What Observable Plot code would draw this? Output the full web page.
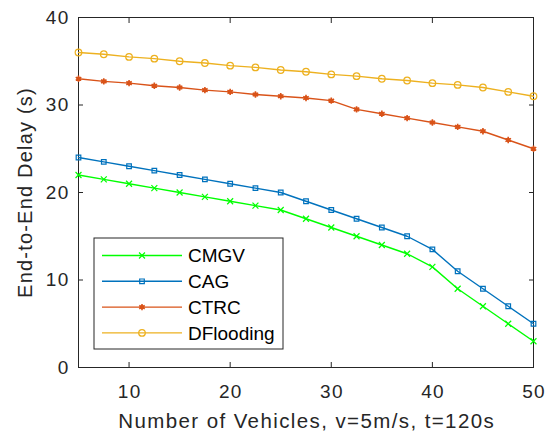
<!DOCTYPE html>
<html>
<head>
<meta charset="utf-8">
<script src="https://cdn.jsdelivr.net/npm/d3@7"></script>
<script src="https://cdn.jsdelivr.net/npm/@observablehq/plot@0.6"></script>
<style>
  html, body { margin: 0; padding: 0; background: #fff; }
  #chart { position: relative; width: 545px; height: 432px; }
  .tick-lbl text { letter-spacing: 1.3px; }
  .ax-lbl-x text { letter-spacing: 1.4px; }
  .ax-lbl-y text { letter-spacing: 1.2px; }
</style>
</head>
<body>
<div id="chart"></div>
<script>
const vehicles = [5, 7.5, 10, 12.5, 15, 17.5, 20, 22.5, 25, 27.5, 30, 32.5, 35, 37.5, 40, 42.5, 45, 47.5, 50];
const cmgv = [22, 21.5, 21, 20.5, 20, 19.5, 19, 18.5, 18, 17, 16, 15, 14, 13, 11.5, 9, 7, 5, 3];
const cag = [24, 23.5, 23, 22.5, 22, 21.5, 21, 20.5, 20, 19, 18, 17, 16, 15, 13.5, 11, 9, 7, 5];
const ctrc = [33, 32.7, 32.5, 32.2, 32, 31.7, 31.5, 31.2, 31, 30.8, 30.5, 29.5, 29, 28.5, 28, 27.5, 27, 26, 25];
const dflooding = [36, 35.8, 35.5, 35.3, 35, 34.8, 34.5, 34.3, 34, 33.8, 33.5, 33.3, 33, 32.8, 32.5, 32.3, 32, 31.5, 31];
const seriesNames = ["CMGV", "CAG", "CTRC", "DFlooding"];
const seriesValues = [cmgv, cag, ctrc, dflooding];
const seriesColors = ["#00ff00", "#0072bd", "#d95319", "#edb120"];
const seriesSymbols = ["times", "square", "asterisk", "circle"];
const xTicks = [10, 20, 30, 40, 50];
const yTicks = [0, 10, 20, 30, 40];
const xLabel = "Number of Vehicles, v=5m/s, t=120s";
const yLabel = "End-to-End Delay (s)";

const FONT = "'Liberation Sans', Arial, Helvetica, sans-serif";
const AX = "#262626";

const rows = [];
seriesNames.forEach((name, i) => {
  vehicles.forEach((v, j) => rows.push({series: name, x: v, y: seriesValues[i][j]}));
});

const colorOf = Object.fromEntries(seriesNames.map((n, i) => [n, seriesColors[i]]));
const symOf = Object.fromEntries(seriesNames.map((n, i) => [n, seriesSymbols[i]]));
const symR = {circle: 3.3, square: 2.6, asterisk: 3.0, times: 2.8};

const marks = [];
seriesNames.forEach((name) => {
  const d = rows.filter(r => r.series === name);
  marks.push(Plot.line(d, {x: "x", y: "y", stroke: colorOf[name], strokeWidth: 1.4}));
  const sym = symOf[name];
  marks.push(Plot.dot(d, {x: "x", y: "y", stroke: colorOf[name], symbol: () => sym, r: symR[sym], strokeWidth: sym === "asterisk" ? 1.6 : 1.2, fill: "none"}));
  if (sym === "asterisk") {
    marks.push(Plot.dot(d, {x: "x", y: "y", fill: colorOf[name], r: 2.2}));
  }
});

const chart = Plot.plot({
  width: 545,
  height: 432,
  marginLeft: 78,
  marginRight: 12,
  marginTop: 17,
  marginBottom: 65,
  style: {fontFamily: FONT, fontSize: "19px", color: AX, background: "#fff"},
  x: {domain: [5, 50]},
  y: {domain: [0, 40]},
  marks: [
    Plot.frame({stroke: AX, strokeWidth: 1}),
    ...marks,
    Plot.axisX(xTicks, {anchor: "bottom", tickSize: -5, text: null, stroke: AX, label: null}),
    Plot.axisX(xTicks, {anchor: "top", tickSize: -5, text: null, stroke: AX, label: null}),
    Plot.axisY(yTicks, {anchor: "left", tickSize: -5, text: null, stroke: AX, label: null}),
    Plot.axisY(yTicks, {anchor: "right", tickSize: -5, text: null, stroke: AX, label: null}),
    Plot.axisX(xTicks, {anchor: "bottom", tickSize: 0, tickPadding: 17, label: null, fill: AX, fontSize: 19, className: "tick-lbl", dx: 0.6}),
    Plot.axisY(yTicks, {anchor: "left", tickSize: 0, tickPadding: 9, label: null, fill: AX, fontSize: 19, className: "tick-lbl"}),
    Plot.text([xLabel], {frameAnchor: "bottom", text: d => d, dy: 46, dx: 0.7, lineAnchor: "top", fill: AX, fontSize: 20.5, className: "ax-lbl-x"}),
    Plot.text([yLabel], {frameAnchor: "left", text: d => d, dx: -53, rotate: -90, textAnchor: "middle", lineAnchor: "middle", fill: AX, fontSize: 20, className: "ax-lbl-y"})
  ]
});

document.getElementById("chart").appendChild(chart);

// Legend (MATLAB-style, inside axes at lower-left)
const svg = d3.select(chart);
const lg = svg.append("g").attr("transform", "translate(94,238)");
lg.append("rect").attr("width", 189).attr("height", 111).attr("fill", "#fff").attr("stroke", AX).attr("stroke-width", 1);
const symMap = {times: d3.symbolTimes, square: d3.symbolSquare, asterisk: d3.symbolAsterisk, circle: d3.symbolCircle};
seriesNames.forEach((name, i) => {
  const cy = 17.5 + i * 25.8;
  const g = lg.append("g");
  g.append("line").attr("x1", 8).attr("x2", 88).attr("y1", cy).attr("y2", cy).attr("stroke", seriesColors[i]).attr("stroke-width", 1.4);
  const sym = seriesSymbols[i];
  const r = symR[sym];
  g.append("path").attr("transform", `translate(48,${cy})`).attr("d", d3.symbol(symMap[sym], Math.PI * r * r)())
    .attr("fill", "none").attr("stroke", seriesColors[i]).attr("stroke-width", sym === "asterisk" ? 1.6 : 1.2);
  if (sym === "asterisk") g.append("circle").attr("cx", 48).attr("cy", cy).attr("r", 2.2).attr("fill", seriesColors[i]);
  g.append("text").attr("x", 94).attr("y", cy).attr("dy", "0.35em").attr("text-anchor", "start")
    .attr("font-family", FONT).attr("font-size", 19).attr("fill", "#000").text(name);
});
</script>
</body>
</html>
